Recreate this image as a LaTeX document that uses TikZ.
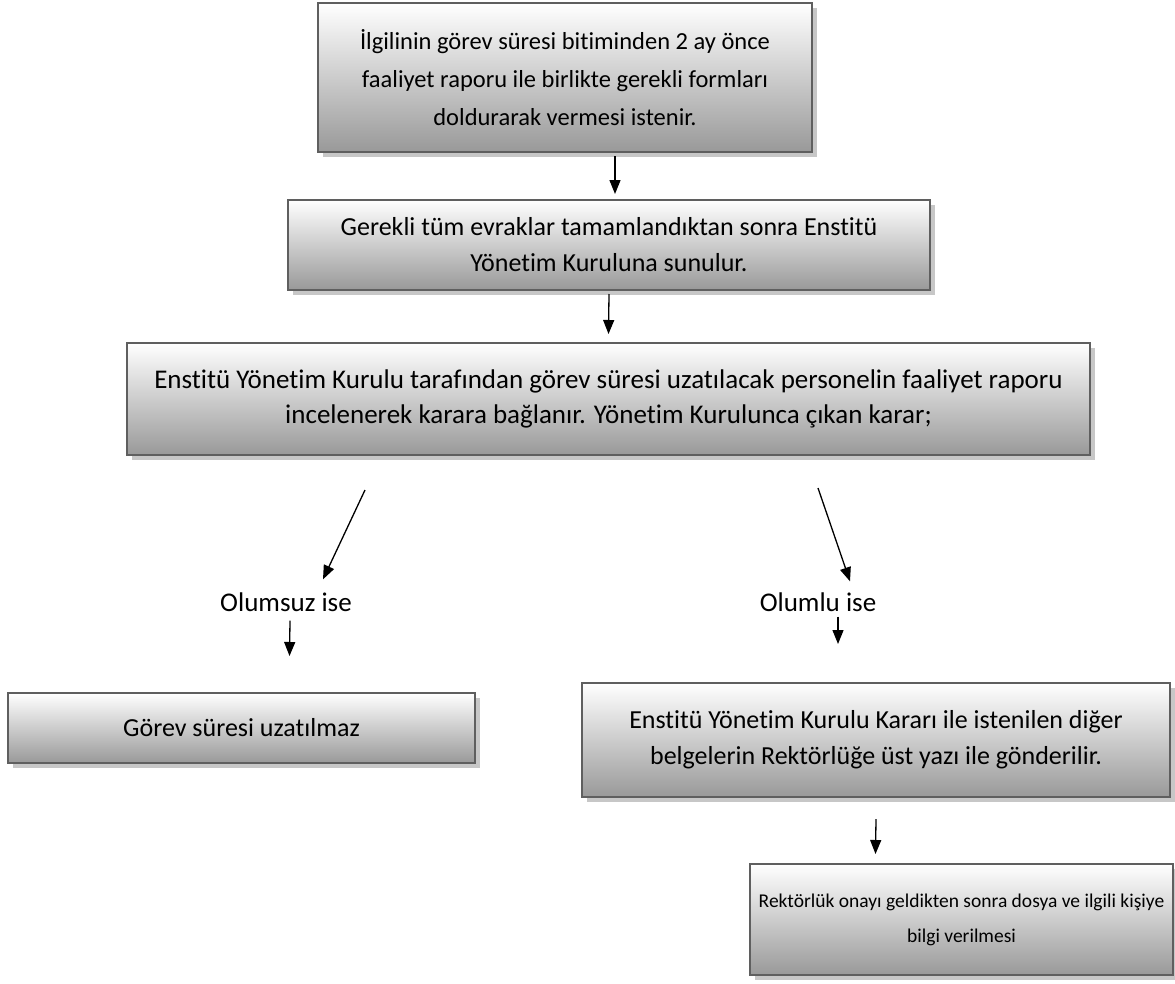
\documentclass[tikz,border=0pt]{standalone}
\usepackage{fontspec}
\setmainfont{Carlito}[Ligatures=NoCommon]
\usetikzlibrary{arrows.meta,shadows}
\definecolor{boxedge}{HTML}{5F5F5F}
\definecolor{boxbot}{HTML}{999999}
\begin{document}
\begin{tikzpicture}[
    x=1pt, y=-1pt,
    box/.style={draw=boxedge, line width=2pt, top color=white, bottom color=boxbot,
        align=center, inner sep=0pt, font=\fontsize{26}{36}\selectfont,
        drop shadow={shadow xshift=5pt, shadow yshift=-5pt, fill=black!22, opacity=1}},
    lbl/.style={font=\fontsize{27}{30}\selectfont, inner sep=1pt},
    arr/.style={-{Triangle[length=14pt,width=11pt]}, line width=1.3pt}
]
\useasboundingbox (0,0) rectangle (1175,983);
\node[box, minimum width=494pt, minimum height=149pt, font=\fontsize{24.5}{38}\selectfont] (req) at (565,77.5)
    {İlgilinin görev süresi bitiminden 2 ay önce\\faaliyet raporu ile birlikte gerekli formları\\doldurarak vermesi istenir.};
\node[box, minimum width=642pt, minimum height=90pt] (docs) at (609,245)
    {Gerekli tüm evraklar tamamlandıktan sonra Enstitü\\Yönetim Kuruluna sunulur.};
\node[box, minimum width=963pt, minimum height=112pt, font=\fontsize{27}{35}\selectfont] (board) at (608.5,399)
    {Enstitü Yönetim Kurulu tarafından görev süresi uzatılacak personelin faaliyet raporu\\incelenerek karara bağlanır. Yönetim Kurulunca çıkan karar;};
\node[lbl] (neg) at (286,602) {Olumsuz ise};
\node[lbl] (pos) at (818,602) {Olumlu ise};
\node[box, minimum width=467pt, minimum height=70pt] (noext) at (241.5,728)
    {Görev süresi uzatılmaz};
\node[box, minimum width=588pt, minimum height=114pt] (send) at (876,740)
    {Enstitü Yönetim Kurulu Kararı ile istenilen diğer\\belgelerin Rektörlüğe üst yazı ile gönderilir.};
\node[box, minimum width=423pt, minimum height=111pt, font=\fontsize{19.5}{35}\selectfont] (inform) at (961.5,919.5)
    {Rektörlük onayı geldikten sonra dosya ve ilgili kişiye\\bilgi verilmesi};
% free ends of the branch arrows
\coordinate (negtop) at (365,490);
\coordinate (postop) at (818,488);
\draw[arr] ([xshift=50pt,yshift=-3pt]req.south) -- ([xshift=6pt,yshift=5pt]docs.north);
\draw[arr] ([yshift=-3pt]docs.south) -- ([yshift=8pt]board.north);
\draw[arr] (negtop) -- ([xshift=37pt,yshift=12pt]neg.north);
\draw[arr] (postop) -- ([xshift=32pt,yshift=10pt]pos.north);
\draw[arr] ([xshift=4pt,yshift=-8pt]neg.south) -- ([xshift=48pt,yshift=36pt]noext.north);
\draw[arr] ([xshift=20pt,yshift=-4pt]pos.south) -- ([xshift=-38pt,yshift=38pt]send.north);
\draw[arr] ([yshift=-21pt]send.south) -- ([xshift=-86pt,yshift=9pt]inform.north);
\end{tikzpicture}
\end{document}
